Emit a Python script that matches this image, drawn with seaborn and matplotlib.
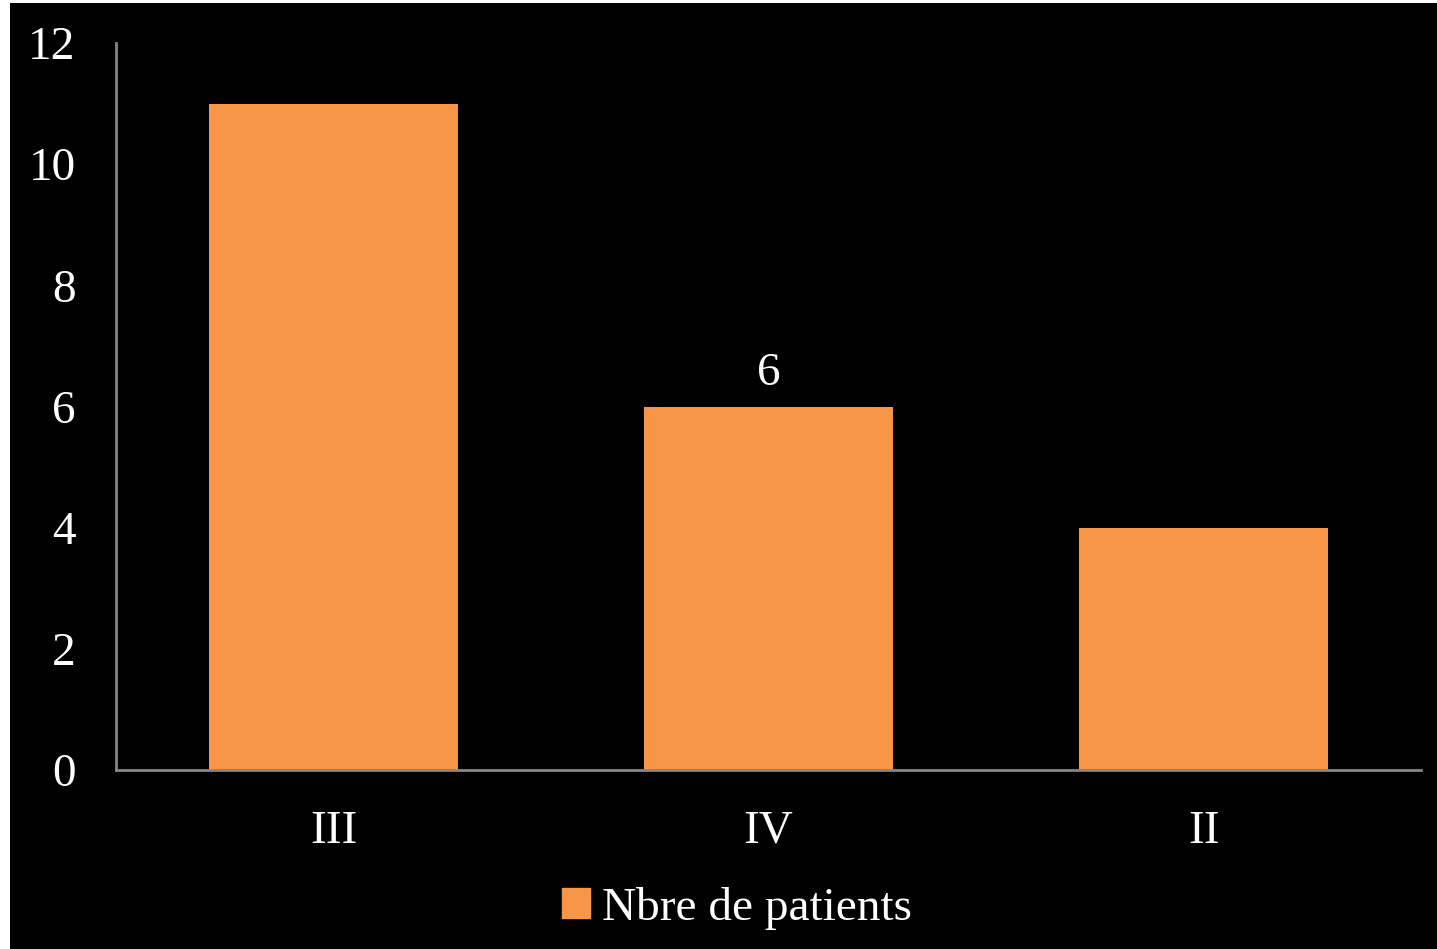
import matplotlib
matplotlib.use("Agg")
import matplotlib.pyplot as plt
import matplotlib.patches as mpatches
import seaborn as sns
import pandas as pd

# data
stades = ["III", "IV", "II"]
patients = [11, 6, 4]
serie = "Nbre de patients"

df = pd.DataFrame({"stade": stades, "n": patients})

sns.set_style("white")
plt.rcParams["font.family"] = ["Liberation Serif", "DejaVu Serif"]

fig = plt.figure(figsize=(14.37, 9.49), dpi=100)
fig.patch.set_facecolor("white")
# black slide background (small white margin top/left like the original)
fig.patches.append(mpatches.Rectangle((10 / 1437, 0), 1, 1 - 3 / 949,
                                      transform=fig.transFigure,
                                      facecolor="black", edgecolor="none", zorder=-10))

ax = fig.add_axes([116 / 1437, 179 / 949, (1421 - 116) / 1437, (770 - 43) / 949])
ax.set_facecolor("black")

sns.barplot(data=df, x="stade", y="n", color="#F79646", width=0.573,
            saturation=1, linewidth=0, ax=ax)

ax.set_ylim(0, 12)
ax.set_yticks(range(0, 13, 2))
ax.set_xlim(-0.5, 2.5)
ax.set_xlabel("")
ax.set_ylabel("")

for s in ["top", "right"]:
    ax.spines[s].set_visible(False)
for s in ["left", "bottom"]:
    ax.spines[s].set_color("#868686")
    ax.spines[s].set_linewidth(2)

ax.tick_params(axis="both", length=0, colors="white", labelsize=34)
ax.tick_params(axis="y", pad=29)
ax.tick_params(axis="x", pad=29)

# only the IV bar carries a label
ax.bar_label(ax.containers[0], labels=["", "6", ""], color="white",
             fontsize=34, padding=8)

handle = mpatches.Patch(color="#F79646", label=serie)
leg = fig.legend(handles=[handle], loc="center", bbox_to_anchor=(0.513, 1 - 908 / 949),
                 frameon=False, fontsize=34, handlelength=0.6, handleheight=0.6,
                 handletextpad=0.25, labelcolor="white")

fig.savefig("out.png", dpi=100, facecolor=fig.get_facecolor())
